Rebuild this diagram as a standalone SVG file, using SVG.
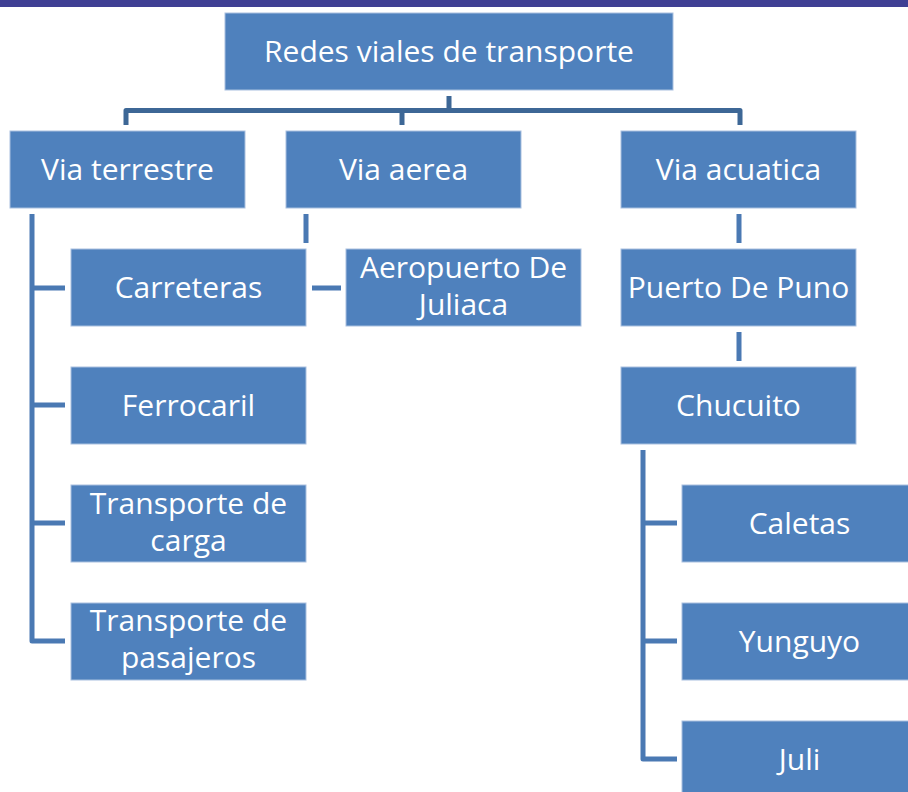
<svg xmlns="http://www.w3.org/2000/svg" width="908" height="792" viewBox="0 0 908 792">
<style>
.box{fill:#4f81bd;stroke:#a9c0df;stroke-width:1}
.t{font-family:"Open Sans","Noto Sans",sans-serif;font-size:30px;fill:#ffffff;text-anchor:middle}
.c1{fill:none;stroke:#3d6796;stroke-width:5;stroke-linejoin:round}
.c2{fill:none;stroke:#4a79b3;stroke-width:5;stroke-linejoin:round}
</style>
<rect width="908" height="792" fill="#ffffff"/>
<rect x="0" y="0" width="908" height="7" fill="#3f3f94"/>
<g id="connectors">
<path class="c1" d="M449,96 V110.5 M126,125 V110.5 H740 V125 M402,110.5 V125"/>
<path class="c2" d="M32,214 V641 H65 M32,288 H65 M32,405 H65 M32,523 H65"/>
<path class="c2" d="M306,214 V243 M312,288 H341"/>
<path class="c2" d="M739,214 V243 M739,332 V361"/>
<path class="c2" d="M643,450 V759 H677 M643,523 H677 M643,641 H677"/>
</g>
<g id="n-root"><rect class="box" x="225" y="13" width="448" height="77"/><text class="t" x="449" y="62">Redes viales de transporte</text></g>
<g id="n-terrestre"><rect class="box" x="10" y="131" width="235" height="77"/><text class="t" x="127.5" y="180">Via terrestre</text></g>
<g id="n-aerea"><rect class="box" x="286" y="131" width="235" height="77"/><text class="t" x="403.5" y="180">Via aerea</text></g>
<g id="n-acuatica"><rect class="box" x="621" y="131" width="235" height="77"/><text class="t" x="738.5" y="180">Via acuatica</text></g>
<g id="n-carreteras"><rect class="box" x="71" y="249" width="235" height="77"/><text class="t" x="188.5" y="298">Carreteras</text></g>
<g id="n-aeropuerto"><rect class="box" x="346" y="249" width="235" height="77"/><text class="t" x="463.5" y="278">Aeropuerto De</text><text class="t" x="463.5" y="315">Juliaca</text></g>
<g id="n-puerto"><rect class="box" x="621" y="249" width="235" height="77"/><text class="t" x="738.5" y="298">Puerto De Puno</text></g>
<g id="n-ferrocaril"><rect class="box" x="71" y="367" width="235" height="77"/><text class="t" x="188.5" y="416">Ferrocaril</text></g>
<g id="n-chucuito"><rect class="box" x="621" y="367" width="235" height="77"/><text class="t" x="738.5" y="416">Chucuito</text></g>
<g id="n-carga"><rect class="box" x="71" y="485" width="235" height="77"/><text class="t" x="188.5" y="514">Transporte de</text><text class="t" x="188.5" y="551">carga</text></g>
<g id="n-pasajeros"><rect class="box" x="71" y="603" width="235" height="77"/><text class="t" x="188.5" y="631">Transporte de</text><text class="t" x="188.5" y="668">pasajeros</text></g>
<g id="n-caletas"><rect class="box" x="682" y="485" width="235" height="77"/><text class="t" x="799.5" y="534">Caletas</text></g>
<g id="n-yunguyo"><rect class="box" x="682" y="603" width="235" height="77"/><text class="t" x="799.5" y="652">Yunguyo</text></g>
<g id="n-juli"><rect class="box" x="682" y="721" width="235" height="77"/><text class="t" x="799.5" y="770">Juli</text></g>
</svg>
